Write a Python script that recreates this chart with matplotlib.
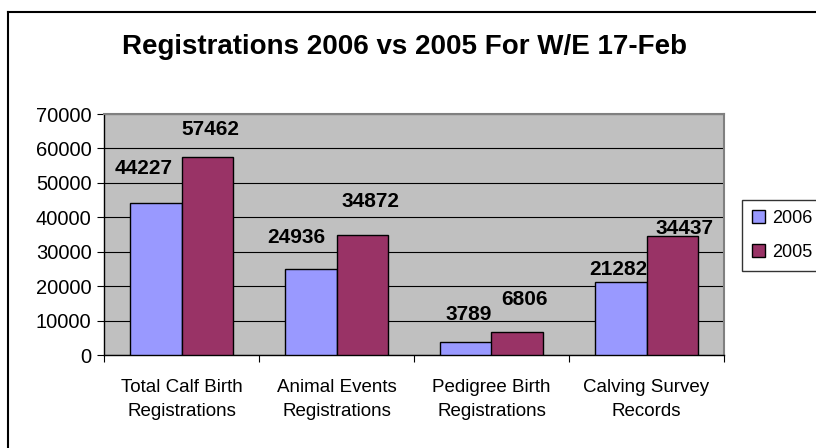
import matplotlib.pyplot as plt
import numpy as np

categories = ["Total Calf Birth\nRegistrations", "Animal Events\nRegistrations",
              "Pedigree Birth\nRegistrations", "Calving Survey\nRecords"]
series_names = ["2006", "2005"]
values_2006 = [44227, 24936, 3789, 21282]
values_2005 = [57462, 34872, 6806, 34437]
y_ticks = [0, 10000, 20000, 30000, 40000, 50000, 60000, 70000]

# label nudges (points) - the Excel labels were placed by hand
dx_2006 = [-9, -10, 2, -2]
dx_2005 = [2, 6, 5, 9]
dy_2006 = [25, 23, 20, 9]
dy_2005 = [20, 24, 23, 6]

plt.rcParams["font.family"] = ["Liberation Sans", "DejaVu Sans"]

W, H = 816, 448
fig = plt.figure(figsize=(W / 100, H / 100), dpi=100)

# outer chart border (only left and top visible in the reference)
fig.add_artist(plt.Line2D([8 / W, 8 / W], [0, 1 - 12 / H], color="black", lw=1.5,
                          transform=fig.transFigure))
fig.add_artist(plt.Line2D([8 / W, 1], [1 - 12 / H, 1 - 12 / H], color="black", lw=1.5,
                          transform=fig.transFigure))

left, right, top, bottom = 104, 724, 114, 355
ax = fig.add_axes([left / W, 1 - bottom / H, (right - left) / W, (bottom - top) / H])
ax.set_facecolor("#C0C0C0")

x = np.arange(len(categories))
bw = 1 / 3
ax.bar(x - bw / 2, values_2006, bw, color="#9999FF", edgecolor="black", lw=1,
       label=series_names[0], zorder=3)
ax.bar(x + bw / 2, values_2005, bw, color="#993366", edgecolor="black", lw=1,
       label=series_names[1], zorder=3)

for xi, v, ddx, ddy in zip(x, values_2006, dx_2006, dy_2006):
    ax.annotate(str(v), (xi - bw / 2, v), xytext=(ddx, ddy), textcoords="offset points",
                ha="center", va="center", fontsize=15, fontweight="bold", zorder=4)
for xi, v, ddx, ddy in zip(x, values_2005, dx_2005, dy_2005):
    ax.annotate(str(v), (xi + bw / 2, v), xytext=(ddx, ddy), textcoords="offset points",
                ha="center", va="center", fontsize=15, fontweight="bold", zorder=4)

ax.set_xlim(-0.5, len(categories) - 0.5)
ax.set_ylim(0, 70000)
ax.set_yticks(y_ticks)
ax.set_yticklabels([str(t) for t in y_ticks], fontsize=14.5)
ax.yaxis.grid(True, color="black", lw=0.8, zorder=1)
ax.set_axisbelow(True)

ax.set_xticks(np.arange(len(categories) + 1) - 0.5)
ax.set_xticklabels([])
ax.set_xticks(x, minor=True)
ax.set_xticklabels(categories, minor=True, fontsize=13.5, linespacing=1.6)
ax.tick_params(axis="x", which="minor", length=0, pad=17)
ax.tick_params(axis="x", which="major", length=5, color="black", direction="out")
ax.tick_params(axis="y", length=5, color="black", direction="out", pad=4)

for s in ["top", "right"]:
    ax.spines[s].set_color("#808080")
    ax.spines[s].set_linewidth(1.5)
for s in ["left", "bottom"]:
    ax.spines[s].set_color("black")
    ax.spines[s].set_linewidth(1)

fig.text(405 / W, 1 - 47 / H, "Registrations 2006 vs 2005 For W/E 17-Feb",
         ha="center", va="center", fontsize=20, fontweight="bold")

leg = fig.legend(loc="upper left", bbox_to_anchor=(742 / W, 1 - 200 / H),
                 fontsize=13, frameon=True, fancybox=False, edgecolor="black",
                 handlelength=0.7, handleheight=0.7, handletextpad=0.4,
                 borderpad=0.55, labelspacing=0.95, borderaxespad=0)
leg.get_frame().set_linewidth(1)

fig.savefig("out.png", dpi=100)
